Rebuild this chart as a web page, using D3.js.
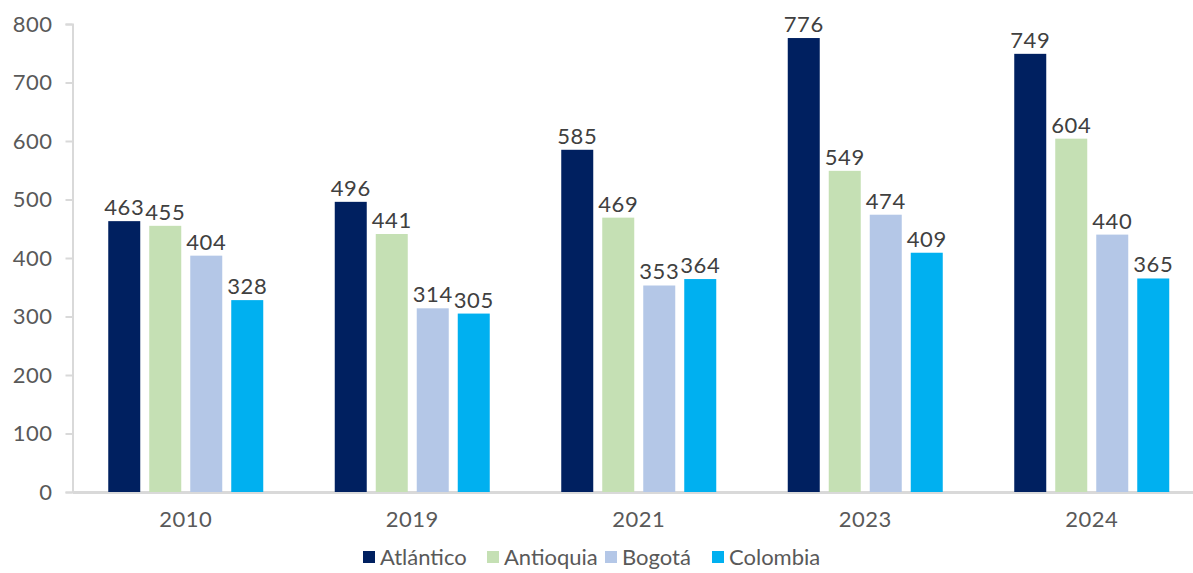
<!DOCTYPE html>
<html lang="es">
<head>
<meta charset="UTF-8">
<title>Chart</title>
<script src="https://cdn.jsdelivr.net/npm/d3@7"></script>
<style>
  body { margin: 0; background: #fff; }
  svg { display: block; font-family: "Lato", "Open Sans", sans-serif; }
</style>
</head>
<body>
<script>
const years = ["2010", "2019", "2021", "2023", "2024"];
const series = ["Atlántico", "Antioquia", "Bogotá", "Colombia"];
const colors = ["#002060", "#C5E0B4", "#B4C7E7", "#00B0F0"];
const atlantico = [463, 496, 585, 776, 749];
const antioquia = [455, 441, 469, 549, 604];
const bogota = [404, 314, 353, 474, 440];
const colombia = [328, 305, 364, 409, 365];
const yTicks = [0, 100, 200, 300, 400, 500, 600, 700, 800];

const values = [atlantico, antioquia, bogota, colombia];
const width = 1193, height = 573;
const mLeft = 72.5, mRight = 1205, mTop = 24, mBottom = 492;

const svg = d3.select("body").append("svg").attr("width", width).attr("height", height);

const x = d3.scaleBand().domain(years).range([mLeft, mRight]).padding(0);
const y = d3.scaleLinear().domain([0, 800]).range([mBottom, mTop]);
const barW = 32, step = 41;
const xs = d3.scaleBand().domain(series)
  .range([-2 * step + (step - barW) / 2, 2 * step - (step - barW) / 2])
  .paddingInner((step - barW) / step);

// y axis
const yAxis = svg.append("g").attr("transform", `translate(${mLeft},0)`)
  .call(d3.axisLeft(y).tickValues(yTicks).tickSize(7).tickPadding(13));
yAxis.select(".domain").attr("stroke", "#d9d9d9").attr("stroke-width", 2);
yAxis.selectAll(".tick line").attr("stroke", "#d9d9d9").attr("stroke-width", 2);
yAxis.selectAll(".tick text").attr("fill", "#595959").attr("font-size", 22)
  .attr("font-family", "Lato, sans-serif").attr("letter-spacing", 0.5);

// x axis
const xAxis = svg.append("g").attr("transform", `translate(0,${mBottom})`)
  .call(d3.axisBottom(x).tickSize(0).tickPadding(19));
xAxis.select(".domain").attr("stroke", "#d9d9d9").attr("stroke-width", 3);
xAxis.selectAll(".tick text").attr("fill", "#595959").attr("font-size", 22)
  .attr("font-family", "Lato, sans-serif").attr("letter-spacing", 0.5);

// bars
const groups = svg.append("g").selectAll("g").data(years).join("g")
  .attr("transform", d => `translate(${x(d) + x.bandwidth() / 2},0)`);

groups.selectAll("rect")
  .data((d, i) => series.map((s, j) => ({ s, j, v: values[j][i] })))
  .join("rect")
  .attr("x", d => xs(d.s))
  .attr("width", xs.bandwidth())
  .attr("y", d => y(d.v))
  .attr("height", d => mBottom - y(d.v))
  .attr("fill", d => colors[d.j]);

groups.selectAll("text")
  .data((d, i) => series.map((s, j) => ({ s, j, v: values[j][i] })))
  .join("text")
  .attr("x", d => xs(d.s) + xs.bandwidth() / 2)
  .attr("y", d => y(d.v) - 6)
  .attr("text-anchor", "middle")
  .attr("fill", "#404040")
  .attr("font-size", 22)
  .attr("letter-spacing", 0.5)
  .text(d => d.v);

// legend
const legendX = [363, 487, 605, 712];
const legend = svg.append("g").selectAll("g").data(series).join("g")
  .attr("transform", (d, i) => `translate(${legendX[i]},551)`);
legend.append("rect").attr("width", 12).attr("height", 12).attr("fill", (d, i) => colors[i]);
legend.append("text").attr("x", 17).attr("y", 14)
  .attr("fill", "#595959").attr("font-size", 22).text(d => d);
</script>
</body>
</html>
